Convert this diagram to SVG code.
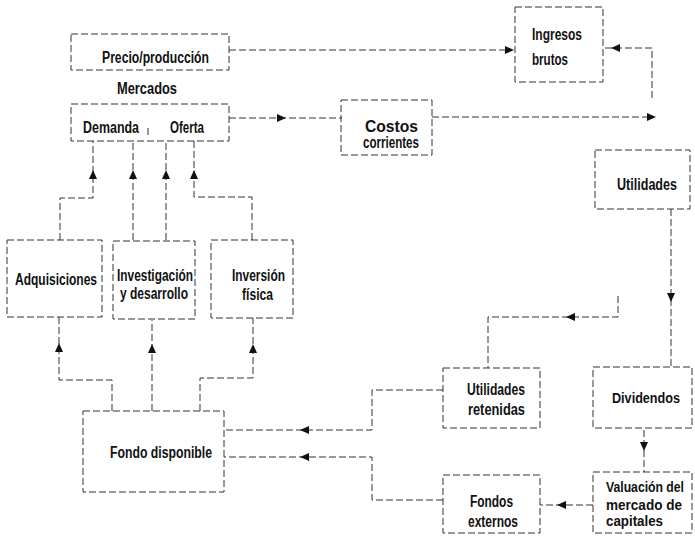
<svg xmlns="http://www.w3.org/2000/svg" xmlns:xlink="http://www.w3.org/1999/xlink" width="695" height="543" viewBox="0 0 695 543">
<style>
.box{fill:none;stroke:#333;stroke-width:1;stroke-dasharray:7 3}
.ln{fill:none;stroke:#333;stroke-width:1;stroke-dasharray:7 3}
.t{font-family:"Liberation Sans Narrow","Liberation Sans",Arial,sans-serif;font-weight:bold;font-size:16px;fill:#111}
.s{font-size:14px}
.m{text-anchor:middle}
</style>
<defs>
<path id="ah" d="M0,0 L-9,-4 L-9,4 Z" fill="#111"/>
</defs>
<rect width="695" height="543" fill="#fff"/>

<g id="connectors">
<path class="ln" d="M229,50 H510"/><use xlink:href="#ah" transform="translate(514,50)"/>
<path class="ln" d="M605,48 H652 V100"/><use xlink:href="#ah" transform="translate(611,48) rotate(180)"/>
<path class="ln" d="M229,118 H342"/><use xlink:href="#ah" transform="translate(286,118)"/>
<path class="ln" d="M432,117 H652"/><use xlink:href="#ah" transform="translate(656,117)"/>
<path class="ln" d="M671,209 V367"/><use xlink:href="#ah" transform="translate(671,302) rotate(90)"/>
<path class="ln" d="M618,296 V317 H488 V368"/><use xlink:href="#ah" transform="translate(566,317) rotate(180)"/>
<path class="ln" d="M644,430 V472"/><use xlink:href="#ah" transform="translate(644,451) rotate(90)"/>
<path class="ln" d="M593,505 H540"/><use xlink:href="#ah" transform="translate(557,505) rotate(180)"/>
<path class="ln" d="M443,390 H372 V430 H224"/><use xlink:href="#ah" transform="translate(300,430) rotate(180)"/>
<path class="ln" d="M443,500 H372 V457 H224"/><use xlink:href="#ah" transform="translate(300,457) rotate(180)"/>
<path class="ln" d="M112,411 V380 H59 V317"/><use xlink:href="#ah" transform="translate(59,343) rotate(-90)"/>
<path class="ln" d="M152,411 V320"/><use xlink:href="#ah" transform="translate(152,344) rotate(-90)"/>
<path class="ln" d="M200,411 V378 H253 V318"/><use xlink:href="#ah" transform="translate(253,344) rotate(-90)"/>
<path class="ln" d="M60,240 V198 H93 V141"/><use xlink:href="#ah" transform="translate(93,170) rotate(-90)"/>
<path class="ln" d="M133,240 V141"/><use xlink:href="#ah" transform="translate(133,170) rotate(-90)"/>
<path class="ln" d="M166,240 V141"/><use xlink:href="#ah" transform="translate(166,170) rotate(-90)"/>
<path class="ln" d="M252,240 V197 H194 V141"/><use xlink:href="#ah" transform="translate(194,170) rotate(-90)"/>
</g>

<g id="mercados">
<rect class="box" x="71" y="34" width="158" height="36"/>
<text class="t m" x="155.5" y="63" textLength="107" lengthAdjust="spacingAndGlyphs">Precio/producción</text>
<text class="t m" x="147" y="94" textLength="60" lengthAdjust="spacingAndGlyphs">Mercados</text>
<rect class="box" x="71" y="104" width="158" height="37"/>
<path class="ln" d="M148,128 V138"/>
<text class="t m" x="111" y="133" textLength="56" lengthAdjust="spacingAndGlyphs">Demanda</text>
<text class="t m" x="187" y="133" textLength="34" lengthAdjust="spacingAndGlyphs">Oferta</text>
</g>

<g id="ingresos">
<rect class="box" x="515" y="7" width="88" height="75"/>
<text class="t" x="532" y="40" textLength="50" lengthAdjust="spacingAndGlyphs">Ingresos</text>
<text class="t" x="532" y="65" textLength="36" lengthAdjust="spacingAndGlyphs">brutos</text>
</g>

<g id="costos">
<rect class="box" x="341" y="100" width="91" height="55"/>
<text class="t m" x="391.5" y="132" textLength="53" lengthAdjust="spacingAndGlyphs">Costos</text>
<text class="t m" x="391" y="148" textLength="56" lengthAdjust="spacingAndGlyphs">corrientes</text>
</g>

<g id="utilidades">
<rect class="box" x="595" y="150" width="95" height="59"/>
<text class="t m" x="647" y="190" textLength="60" lengthAdjust="spacingAndGlyphs">Utilidades</text>
</g>

<g id="adquisiciones">
<rect class="box" x="7" y="240" width="95" height="77"/>
<text class="t m" x="56" y="285" textLength="82" lengthAdjust="spacingAndGlyphs">Adquisiciones</text>
</g>

<g id="investigacion">
<rect class="box" x="113" y="241" width="82" height="78"/>
<text class="t m" x="155" y="281" textLength="76" lengthAdjust="spacingAndGlyphs">Investigación</text>
<text class="t m" x="154" y="299" textLength="68" lengthAdjust="spacingAndGlyphs">y desarrollo</text>
</g>

<g id="inversion">
<rect class="box" x="211" y="240" width="82" height="78"/>
<text class="t m" x="258.5" y="281" textLength="53" lengthAdjust="spacingAndGlyphs">Inversión</text>
<text class="t m" x="257.5" y="300" textLength="31" lengthAdjust="spacingAndGlyphs">física</text>
</g>

<g id="fondo">
<rect class="box" x="83" y="411" width="141" height="81"/>
<text class="t m" x="161" y="458" textLength="102" lengthAdjust="spacingAndGlyphs">Fondo disponible</text>
</g>

<g id="retenidas">
<rect class="box" x="443" y="368" width="97" height="60"/>
<text class="t m" x="496" y="395" textLength="58" lengthAdjust="spacingAndGlyphs">Utilidades</text>
<text class="t m" x="496.5" y="415" textLength="57" lengthAdjust="spacingAndGlyphs">retenidas</text>
</g>

<g id="dividendos">
<rect class="box" x="593" y="367" width="99" height="61"/>
<text class="t s m" x="646" y="403" textLength="68" lengthAdjust="spacingAndGlyphs">Dividendos</text>
</g>

<g id="externos">
<rect class="box" x="443" y="475" width="97" height="58"/>
<text class="t m" x="491.5" y="507" textLength="43" lengthAdjust="spacingAndGlyphs">Fondos</text>
<text class="t m" x="493" y="527" textLength="50" lengthAdjust="spacingAndGlyphs">externos</text>
</g>

<g id="valuacion">
<rect class="box" x="593" y="472" width="99" height="61"/>
<text class="t s" x="606" y="492" textLength="78" lengthAdjust="spacingAndGlyphs">Valuación del</text>
<text class="t s" x="606" y="510" textLength="76" lengthAdjust="spacingAndGlyphs">mercado de</text>
<text class="t s" x="606" y="526" textLength="57" lengthAdjust="spacingAndGlyphs">capitales</text>
</g>
</svg>
